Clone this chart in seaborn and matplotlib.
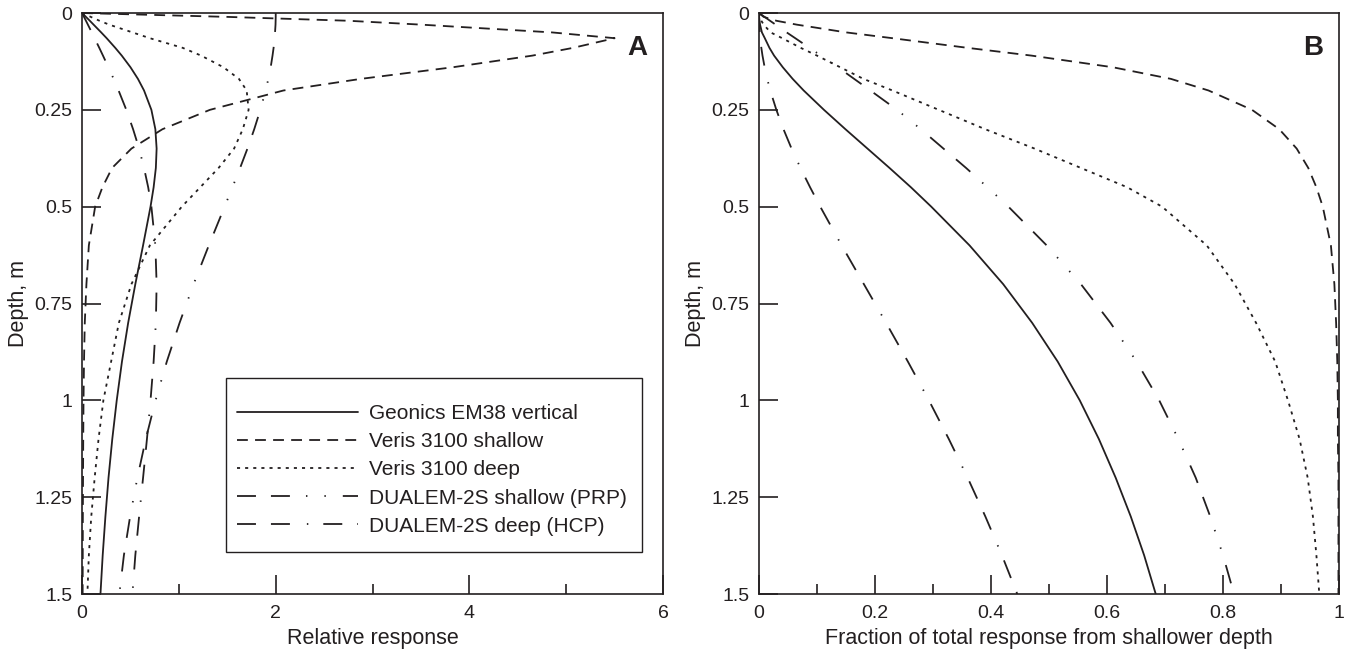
import numpy as np
import pandas as pd
import matplotlib
matplotlib.use("Agg")
import matplotlib.pyplot as plt
from matplotlib.ticker import FixedLocator
from matplotlib.patches import Rectangle
import seaborn as sns

# ---------------- data ----------------
depth = [0, 0.01, 0.02, 0.03, 0.05, 0.065, 0.09, 0.11, 0.14, 0.17, 0.2, 0.25, 0.3,
         0.35, 0.4, 0.45, 0.5, 0.6, 0.7, 0.8, 0.9, 1.0, 1.1, 1.2, 1.3, 1.4, 1.5]

series_names = ["Geonics EM38 vertical", "Veris 3100 shallow", "Veris 3100 deep",
                "DUALEM-2S shallow (PRP)", "DUALEM-2S deep (HCP)"]

# Panel A: relative response
em38_rel = [0, 0.040, 0.080, 0.119, 0.197, 0.254, 0.343, 0.410, 0.500, 0.577, 0.640, 0.716, 0.757,
            0.770, 0.762, 0.739, 0.707, 0.630, 0.550, 0.476, 0.412, 0.358, 0.312, 0.273, 0.241, 0.213, 0.190]
veris_sh_rel = [0, 1.5, 2.75, 3.5, 4.85, 5.5, 5.07, 4.65, 3.83, 2.88, 2.08, 1.32, 0.83,
                0.51, 0.31, 0.21, 0.135, 0.07, 0.045, 0.028, 0.02, 0.015, 0.012, 0.01, 0.008, 0.007, 0.006]
veris_dp_rel = [0, 0.09, 0.18, 0.28, 0.52, 0.70, 1.04, 1.23, 1.46, 1.62, 1.70, 1.72, 1.66,
                1.57, 1.41, 1.22, 1.03, 0.70, 0.51, 0.38, 0.30, 0.22, 0.17, 0.13, 0.095, 0.07, 0.055]
prp_rel = [2.0, 2.0, 1.999, 1.998, 1.993, 1.989, 1.978, 1.967, 1.948, 1.924, 1.896, 1.841, 1.778,
           1.708, 1.632, 1.553, 1.472, 1.309, 1.152, 1.007, 0.875, 0.759, 0.658, 0.571, 0.496, 0.432, 0.385]
hcp_rel = [0, 0.020, 0.040, 0.060, 0.100, 0.129, 0.178, 0.216, 0.272, 0.326, 0.377, 0.457, 0.527,
           0.589, 0.640, 0.683, 0.716, 0.757, 0.770, 0.762, 0.739, 0.707, 0.670, 0.630, 0.589, 0.550, 0.520]

# Panel B: fraction of total response from shallower depth
em38_cum = [0, 0.0002, 0.0008, 0.0018, 0.005, 0.010, 0.018, 0.026, 0.041, 0.058, 0.077, 0.112, 0.149,
            0.187, 0.225, 0.262, 0.297, 0.363, 0.421, 0.471, 0.515, 0.553, 0.586, 0.615, 0.641, 0.664, 0.684]
veris_sh_cum = [0, 0.008, 0.03, 0.065, 0.15, 0.23, 0.36, 0.47, 0.61, 0.71, 0.775, 0.85, 0.897,
                0.927, 0.947, 0.961, 0.972, 0.986, 0.992, 0.995, 0.997, 0.998, 0.998, 0.999, 0.999, 0.999, 0.999]
veris_dp_cum = [0, 0.001, 0.004, 0.008, 0.02, 0.04, 0.072, 0.10, 0.14, 0.18, 0.23, 0.31, 0.39,
                0.475, 0.555, 0.635, 0.695, 0.772, 0.82, 0.857, 0.89, 0.912, 0.932, 0.946, 0.955, 0.961, 0.966]
prp_cum = [0, 0.0095, 0.019, 0.0286, 0.0476, 0.0625, 0.087, 0.107, 0.136, 0.164, 0.192, 0.238, 0.279,
           0.318, 0.357, 0.394, 0.430, 0.496, 0.555, 0.606, 0.651, 0.690, 0.723, 0.753, 0.778, 0.800, 0.819]
hcp_cum = [0, 0.00005, 0.0002, 0.00045, 0.00125, 0.0021, 0.004, 0.006, 0.0097, 0.0141, 0.0194, 0.0299, 0.0422,
           0.0561, 0.0715, 0.0881, 0.1056, 0.1425, 0.1808, 0.2191, 0.2567, 0.2929, 0.3273, 0.3598, 0.3903, 0.4188, 0.4453]

ytick_vals = [0, 0.25, 0.5, 0.75, 1, 1.25, 1.5]
ytick_labels = ["0", "0.25", "0.5", "0.75", "1", "1.25", "1.5"]
xa_major = [0, 2, 4, 6]
xa_labels = ["0", "2", "4", "6"]
xa_minor = [1, 3, 5]
xb_major = [0, 0.2, 0.4, 0.6, 0.8, 1.0]
xb_labels = ["0", "0.2", "0.4", "0.6", "0.8", "1"]
xb_minor = [0.1, 0.3, 0.5, 0.7, 0.9]

# ---------------- style ----------------
sns.set_theme(style="white")
plt.rcParams["font.family"] = ["Liberation Sans", "DejaVu Sans"]
INK = "#231f20"
LW = 1.3

# dash patterns in units of linewidth
styles = [
    None,
    [6.0, 4.0],
    [1.7, 2.8],
    [10.5, 8.3, 10.5, 8.9, 0.8, 9.4, 0.8, 9.4],
    [10.5, 8.3, 10.5, 9.4, 0.8, 8.3],
]

fig = plt.figure(figsize=(13.52, 6.54), dpi=100)
axA = fig.add_axes([0.0607, 0.0917, 0.4297, 0.8884])
axB = fig.add_axes([0.5614, 0.0917, 0.4290, 0.8884])

rel = [em38_rel, veris_sh_rel, veris_dp_rel, prp_rel, hcp_rel]
cum = [em38_cum, veris_sh_cum, veris_dp_cum, prp_cum, hcp_cum]


def draw(ax, data_list):
    handles = []
    for name, vals, dash in zip(series_names, data_list, styles):
        df = pd.DataFrame({"x": vals, "depth": depth})
        n_before = len(ax.lines)
        sns.lineplot(data=df, x="x", y="depth", sort=False, estimator=None,
                     color=INK, lw=LW, ax=ax, label=name, legend=False)
        line = ax.lines[n_before]
        if dash is not None:
            line.set_dashes(dash)
        line.set_dash_capstyle("butt")
        handles.append(line)
    return handles


def style_axes(ax, xlim, xmaj, xlab, xmin, xlabel, letter):
    ax.set_xlim(*xlim)
    ax.set_ylim(1.5, 0)
    ax.set_yticks(ytick_vals)
    ax.set_yticklabels(ytick_labels)
    ax.set_xticks(xmaj)
    ax.set_xticklabels(xlab)
    ax.xaxis.set_minor_locator(FixedLocator(xmin))
    for s in ax.spines.values():
        s.set_visible(True)
        s.set_color(INK)
        s.set_linewidth(1.2)
    ax.tick_params(axis="both", which="major", direction="in", length=14, width=1.2,
                   color=INK, labelsize=14, labelcolor=INK, top=False, right=False,
                   left=True, bottom=True)
    ax.tick_params(axis="y", which="major", pad=7)
    ax.tick_params(axis="x", which="major", pad=8)
    ax.tick_params(axis="x", which="minor", direction="in", length=7, width=1.2,
                   color=INK, bottom=True, top=False)
    ax.set_xlabel(xlabel, fontsize=15.5, color=INK, labelpad=4)
    ax.set_ylabel("Depth, m", fontsize=15.5, color=INK, labelpad=4)
    ax.text(0.955, 0.94, letter, transform=ax.transAxes, fontsize=20,
            fontweight="bold", color=INK, ha="center", va="center")
    ax.grid(False)


hA = draw(axA, rel)
hB = draw(axB, cum)
style_axes(axA, (0, 6), xa_major, xa_labels, xa_minor, "Relative response", "A")
style_axes(axB, (0, 1), xb_major, xb_labels, xb_minor,
           "Fraction of total response from shallower depth", "B")

# legend box drawn as a rectangle, legend entries without frame
axA.add_patch(Rectangle((0.2478, 0.0724), 0.9639 - 0.2478, 0.3724 - 0.0724,
                        transform=axA.transAxes, fill=True, facecolor="white",
                        edgecolor=INK, lw=1.0, zorder=5))
leg = axA.legend(handles=hA, labels=series_names, loc="upper left",
                 bbox_to_anchor=(0.2668, 0.327), fontsize=15, frameon=False,
                 handlelength=5.8, handletextpad=0.55, labelspacing=0.44,
                 borderpad=0, borderaxespad=0)
leg.set_zorder(6)
for t in leg.get_texts():
    t.set_color(INK)
if axB.get_legend() is not None:
    axB.get_legend().remove()

fig.savefig("out.png", dpi=100, facecolor="white")
